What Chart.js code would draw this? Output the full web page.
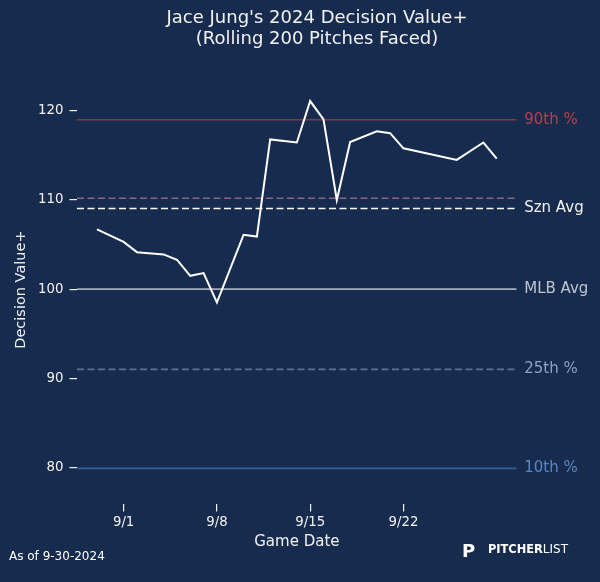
<!DOCTYPE html>
<html>
<head>
<meta charset="utf-8">
<script src="https://cdn.jsdelivr.net/npm/chart.js@4.4.1/dist/chart.umd.min.js"></script>
<style>
  html, body { margin: 0; padding: 0; background: #172b4e; }
  #wrap { width: 600px; height: 582px; position: relative; }
  canvas { display: block; }
</style>
</head>
<body>
<div id="wrap"><canvas id="c" width="600" height="582"></canvas></div>
<script>
// ---------- data ----------
const gameDates = ['2024-08-30','2024-09-01','2024-09-02','2024-09-04','2024-09-05','2024-09-06','2024-09-07','2024-09-08',
  '2024-09-10','2024-09-11','2024-09-12','2024-09-14','2024-09-15','2024-09-16','2024-09-17','2024-09-18',
  '2024-09-20','2024-09-21','2024-09-22','2024-09-26','2024-09-28','2024-09-29'];
const decisionValuePlus = [106.7, 105.3, 104.15, 103.9, 103.3, 101.5, 101.8, 98.5,
  106.1, 105.9, 116.8, 116.45, 121.1, 119.05, 110.0, 116.5,
  117.7, 117.5, 115.8, 114.5, 116.45, 114.65];
const refNames  = ['90th %', '75th %', 'Szn Avg', 'MLB Avg', '25th %', '10th %'];
const refShown  = [true, false, true, true, true, true];
const refValues = [119.0, 110.2, 109.05, 100, 91.0, 79.9];
const xTickDates  = ['2024-09-01','2024-09-08','2024-09-15','2024-09-22'];
const xTickLabels = ['9/1','9/8','9/15','9/22'];
const yTicks = [80, 90, 100, 110, 120];
const titleLines = ["Jace Jung's 2024 Decision Value+", "(Rolling 200 Pitches Faced)"];
const asOfText = 'As of 9-30-2024';

// ---------- styles ----------
const BG = '#172b4e';
const refLineColors  = ['#8a3445', '#8c6580', '#ffffff', '#a3abbb', '#5d7199', '#2e5d9c'];
const refLabelColors = ['#b8404d', '#8c6580', '#f2f2f2', '#bfc5cf', '#8fa2c3', '#5a86c0'];
const refDashes = [[], [7, 3.5], [7, 3.5], [], [7, 3.5], []];
const FONT = 'DejaVu Sans';

const DAY = 86400000;
const toDay = s => new Date(s + 'T00:00:00Z').getTime() / DAY;
const xs = gameDates.map(toDay);
const xMin = Math.min(...xs) - 1.5;
const xMax = Math.max(...xs) + 1.5;

const datasets = [{
  label: 'Decision Value+',
  data: xs.map((x, i) => ({ x: x, y: decisionValuePlus[i] })),
  borderColor: '#ffffff',
  borderWidth: 2,
  pointRadius: 0,
  tension: 0,
  fill: false
}];
refValues.forEach((v, i) => {
  datasets.push({
    label: refNames[i],
    data: [{ x: xMin, y: v }, { x: xMax, y: v }],
    borderColor: refLineColors[i],
    borderWidth: 1.6,
    borderDash: refDashes[i],
    pointRadius: 0,
    fill: false
  });
});

const bgPlugin = {
  id: 'bg',
  beforeDraw(chart) {
    const ctx = chart.ctx;
    ctx.save();
    ctx.fillStyle = BG;
    ctx.fillRect(0, 0, chart.width, chart.height);
    ctx.restore();
  }
};

const decorPlugin = {
  id: 'decor',
  afterDraw(chart) {
    const ctx = chart.ctx;
    const ys = chart.scales.y;
    const area = chart.chartArea;
    ctx.save();
    // right side reference labels
    ctx.font = '15px "' + FONT + '"';
    ctx.textAlign = 'left';
    ctx.textBaseline = 'middle';
    refValues.forEach((v, i) => {
      if (!refShown[i]) return;
      ctx.fillStyle = refLabelColors[i];
      ctx.fillText(refNames[i], area.right + 7.5, ys.getPixelForValue(v));
    });
    // title
    ctx.fillStyle = '#f2f2f2';
    ctx.textAlign = 'center';
    ctx.font = '18px "' + FONT + '"';
    ctx.fillText(titleLines[0], 317, 18);
    ctx.fillText(titleLines[1], 317, 39);
    // as-of footer
    ctx.textAlign = 'left';
    ctx.font = '12px "' + FONT + '"';
    ctx.fillStyle = '#ffffff';
    ctx.fillText(asOfText, 9, 556.5);
    // logo
    ctx.font = 'bold 18px "' + FONT + '"';
    ctx.fillText('P', 462, 552);
    ctx.font = 'bold 11.4px "' + FONT + '"';
    ctx.fillText('PITCHER', 488, 550);
    const w = ctx.measureText('PITCHER').width;
    ctx.font = '12px "' + FONT + '"';
    ctx.fillText('LIST', 488 + w, 550);
    ctx.restore();
  }
};

new Chart(document.getElementById('c'), {
  type: 'line',
  data: { datasets: datasets },
  plugins: [bgPlugin, decorPlugin],
  options: {
    responsive: false,
    animation: false,
    layout: { padding: { top: 75.2, right: 83.3, bottom: 0, left: 0 } },
    plugins: { legend: { display: false }, tooltip: { enabled: false }, title: { display: false } },
    elements: { line: { borderCapStyle: 'butt', borderJoinStyle: 'miter' } },
    scales: {
      x: {
        type: 'linear',
        min: xMin,
        max: xMax,
        afterFit(a) { a.height = 78; },
        afterBuildTicks(a) { a.ticks = xTickDates.map(d => ({ value: toDay(d) })); },
        ticks: {
          color: '#f2f2f2',
          font: { family: FONT, size: 13.3 },
          padding: 3,
          maxRotation: 0,
          autoSkip: false,
          callback: (value) => {
            const i = xTickDates.findIndex(d => toDay(d) === value);
            return i >= 0 ? xTickLabels[i] : '';
          }
        },
        grid: { display: true, drawOnChartArea: false, drawTicks: true, tickLength: 7.5, color: '#f2f2f2', lineWidth: 1.2 },
        border: { display: false },
        title: {
          display: true, text: 'Game Date', color: '#f2f2f2',
          font: { family: FONT, size: 15, lineHeight: 1.2 },
          padding: { top: 0, bottom: 30.7 }
        }
      },
      y: {
        type: 'linear',
        min: 75.9,
        max: 124,
        afterFit(a) { a.width = 77; },
        afterBuildTicks(a) { a.ticks = yTicks.map(v => ({ value: v })); },
        ticks: {
          color: '#f2f2f2',
          font: { family: FONT, size: 13.3 },
          padding: 6,
          autoSkip: false
        },
        grid: { display: true, drawOnChartArea: false, drawTicks: true, tickLength: 7.5, color: '#f2f2f2', lineWidth: 1.2 },
        border: { display: false },
        title: {
          display: true, text: 'Decision Value+', color: '#f2f2f2',
          font: { family: FONT, size: 14.5, lineHeight: 1.2 },
          padding: { top: 12.5, bottom: 0 }
        }
      }
    }
  }
});
</script>
</body>
</html>
